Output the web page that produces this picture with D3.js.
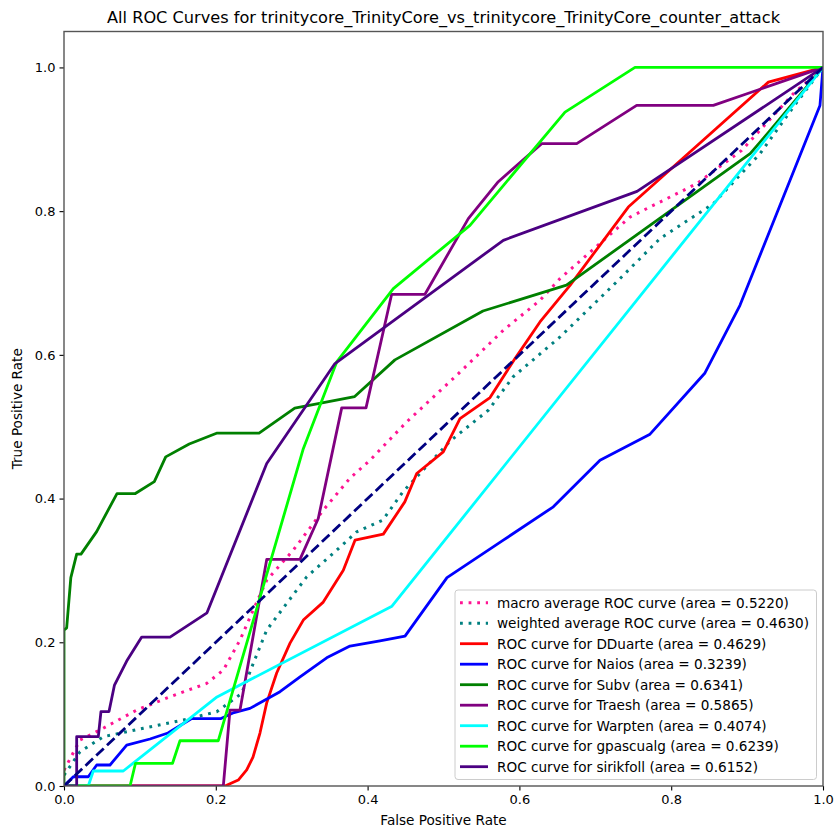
<!DOCTYPE html>
<html>
<head>
<meta charset="utf-8">
<script src="https://cdn.jsdelivr.net/npm/d3@7"></script>
<style>
  html, body { margin: 0; padding: 0; background: #fff; }
  svg { display: block; font-family: "DejaVu Sans", sans-serif; }
</style>
</head>
<body>
<svg id="chart" width="839" height="831"></svg>
<script>
// ROC curve points as [false positive rate, true positive rate]
const macroAvg = [[0,0.022],[0.0211,0.064],[0.0474,0.0779],[0.0958,0.1057],[0.1397,0.1242],[0.188,0.1428],[0.2099,0.1613],[0.2319,0.2031],[0.2473,0.2402],[0.2671,0.2865],[0.3021,0.3282],[0.3416,0.3839],[0.3768,0.4284],[0.4032,0.4534],[0.4515,0.5067],[0.5174,0.5716],[0.5788,0.6342],[0.6271,0.6759],[0.6535,0.7061],[0.7457,0.7918],[0.8336,0.8382],[0.8929,0.8846],[0.9609,0.9634],[1,1]];
const weightedAvg = [[0,0.015],[0.0211,0.0477],[0.0518,0.0686],[0.1045,0.0803],[0.1572,0.0918],[0.2012,0.1033],[0.2341,0.1289],[0.2494,0.1707],[0.2671,0.217],[0.2934,0.2541],[0.3198,0.2911],[0.3593,0.3282],[0.3856,0.3537],[0.42,0.37],[0.447,0.41],[0.5086,0.48],[0.559,0.5229],[0.5916,0.5693],[0.6535,0.6249],[0.7303,0.7038],[0.7852,0.7618],[0.8555,0.8104],[0.917,0.88],[0.9609,0.9448],[1,1]];
const rocDDuarte = [[0,0],[0.2121,0],[0.2296,0.0083],[0.2407,0.0223],[0.249,0.0403],[0.2582,0.0737],[0.267,0.1154],[0.2802,0.1572],[0.2978,0.1989],[0.3153,0.2309],[0.3416,0.2559],[0.368,0.3004],[0.3834,0.3421],[0.4207,0.3505],[0.449,0.3954],[0.4647,0.4349],[0.4997,0.465],[0.5217,0.5114],[0.5613,0.5406],[0.5942,0.5948],[0.6271,0.6458],[0.6667,0.6968],[0.7435,0.8057],[0.928,0.9796],[1,1]];
const rocNaios = [[0,0],[0.0123,0.0129],[0.032,0.0129],[0.0431,0.0292],[0.0606,0.0292],[0.0826,0.057],[0.1133,0.0654],[0.137,0.0737],[0.1682,0.0939],[0.2069,0.0939],[0.224,0.1022],[0.245,0.108],[0.2846,0.1312],[0.311,0.152],[0.3461,0.1784],[0.3768,0.1947],[0.4163,0.2021],[0.4493,0.2086],[0.5046,0.29],[0.5788,0.3421],[0.6447,0.3885],[0.7062,0.4534],[0.7721,0.4896],[0.8445,0.5748],[0.8906,0.669],[0.996,0.947],[1,1]];
const rocSubv = [[0,0],[0,0.217],[0.0035,0.22],[0.009,0.29],[0.0167,0.3227],[0.0224,0.3227],[0.043,0.354],[0.0698,0.407],[0.094,0.407],[0.119,0.4235],[0.134,0.458],[0.165,0.476],[0.201,0.491],[0.257,0.491],[0.304,0.526],[0.383,0.542],[0.436,0.593],[0.552,0.661],[0.662,0.697],[0.904,0.88],[0.927,0.908],[1,1]];
const rocTraesh = [[0,0],[0.2099,0],[0.2187,0.1057],[0.2319,0.1057],[0.2671,0.3153],[0.3109,0.3153],[0.335,0.3723],[0.3659,0.5262],[0.3979,0.5262],[0.4317,0.6843],[0.4756,0.6843],[0.5327,0.7896],[0.5722,0.841],[0.6294,0.8939],[0.6755,0.8939],[0.7545,0.9471],[0.8555,0.9471],[1,1]];
const rocWarpten = [[0,0],[0.032,0],[0.0386,0.0209],[0.0781,0.0209],[0.2016,0.124],[0.4321,0.2503],[1,1]];
const rocGpascualg = [[0,0],[0.087,0],[0.0942,0.0316],[0.143,0.0316],[0.1528,0.063],[0.2033,0.063],[0.3153,0.4695],[0.3593,0.5901],[0.4339,0.6922],[0.5349,0.7803],[0.6601,0.9378],[0.7523,1],[1,1]];
const rocSirikfoll = [[0,0],[0.0167,0],[0.0167,0.0686],[0.0452,0.0686],[0.0487,0.1036],[0.0593,0.1036],[0.0665,0.1405],[0.0826,0.1739],[0.1024,0.2072],[0.1397,0.2072],[0.1884,0.241],[0.2671,0.4488],[0.357,0.5879],[0.5788,0.7594],[0.755,0.8275],[1,1]];
const chanceLine = [[0,0],[1,1]];

const seriesNames = ["macro average ROC curve", "weighted average ROC curve", "ROC curve for DDuarte", "ROC curve for Naios", "ROC curve for Subv", "ROC curve for Traesh", "ROC curve for Warpten", "ROC curve for gpascualg", "ROC curve for sirikfoll"];
const seriesAreas = ["0.5220", "0.4630", "0.4629", "0.3239", "0.6341", "0.5865", "0.4074", "0.6239", "0.6152"];
const seriesColors = ["#ff1493", "#008080", "#ff0000", "#0000ff", "#008000", "#800080", "#00ffff", "#00ff00", "#4b0082"];
const seriesDotted = [true, true, false, false, false, false, false, false, false];
const seriesData = [macroAvg, weightedAvg, rocDDuarte, rocNaios, rocSubv, rocTraesh, rocWarpten, rocGpascualg, rocSirikfoll];
const tickValues = [0, 0.2, 0.4, 0.6, 0.8, 1.0];

const titleText = "All ROC Curves for trinitycore_TrinityCore_vs_trinitycore_TrinityCore_counter_attack";

const svg = d3.select("#chart");
const plotLeft = 64, plotRight = 823, plotTop = 31.5, plotBottom = 786;

const x = d3.scaleLinear().domain([0, 1]).range([plotLeft, plotRight]);
const y = d3.scaleLinear().domain([0, 1.05]).range([plotBottom, plotTop]);

svg.append("defs").append("clipPath").attr("id", "plotClip")
  .append("rect").attr("x", plotLeft).attr("y", plotTop)
  .attr("width", plotRight - plotLeft).attr("height", plotBottom - plotTop);

const line = d3.line().x(d => x(d[0])).y(d => y(d[1]));

const plot = svg.append("g").attr("clip-path", "url(#plotClip)");

const dottedWidth = 3.0, dottedDash = "2.8 5.8";

seriesData.forEach((data, i) => {
  const p = plot.append("path")
    .datum(data)
    .attr("d", line)
    .attr("fill", "none")
    .attr("stroke", seriesColors[i])
    .attr("stroke-linejoin", "round");
  if (seriesDotted[i]) {
    p.attr("stroke-width", dottedWidth).attr("stroke-dasharray", dottedDash);
  } else {
    p.attr("stroke-width", 2.8);
  }
});

// chance diagonal
plot.append("path")
  .datum(chanceLine)
  .attr("d", line)
  .attr("fill", "none")
  .attr("stroke", "#000080")
  .attr("stroke-width", 2.8)
  .attr("stroke-dasharray", "10.3 4.5");

// axes
const xAxis = d3.axisBottom(x).tickValues(tickValues).tickFormat(d3.format(".1f")).tickSize(4.5).tickPadding(4);
const yAxis = d3.axisLeft(y).tickValues(tickValues).tickFormat(d3.format(".1f")).tickSize(4.5).tickPadding(4);

const gx = svg.append("g").attr("transform", `translate(0,${plotBottom})`).call(xAxis);
const gy = svg.append("g").attr("transform", `translate(${plotLeft},0)`).call(yAxis);
[gx, gy].forEach(g => {
  g.select(".domain").remove();
  g.selectAll(".tick line").attr("stroke", "#000").attr("stroke-width", 1.1);
  g.selectAll(".tick text").attr("fill", "#000").style("font-size", "13px").style("font-family", "DejaVu Sans, sans-serif");
});

// frame
svg.append("rect")
  .attr("x", plotLeft).attr("y", plotTop)
  .attr("width", plotRight - plotLeft).attr("height", plotBottom - plotTop)
  .attr("fill", "none").attr("stroke", "#555").attr("stroke-width", 1.4);

// axis titles
svg.append("text")
  .attr("x", (plotLeft + plotRight) / 2).attr("y", 825)
  .attr("text-anchor", "middle")
  .style("font-size", "13.6px")
  .text("False Positive Rate");

svg.append("text")
  .attr("transform", `translate(22,${(plotTop + plotBottom) / 2}) rotate(-90)`)
  .attr("text-anchor", "middle")
  .style("font-size", "13.6px")
  .text("True Positive Rate");

// title
svg.append("text")
  .attr("x", (plotLeft + plotRight) / 2).attr("y", 23)
  .attr("text-anchor", "middle")
  .attr("textLength", 673)
  .attr("lengthAdjust", "spacingAndGlyphs")
  .style("font-size", "15.5px")
  .text(titleText);

// legend
const legend = svg.append("g");
legend.append("rect")
  .attr("x", 455).attr("y", 590)
  .attr("width", 361.5).attr("height", 189.5)
  .attr("rx", 3).attr("ry", 3)
  .attr("fill", "#fff").attr("fill-opacity", 0.8)
  .attr("stroke", "#cccccc").attr("stroke-width", 1);

seriesNames.forEach((name, i) => {
  const cy = 602.7 + i * 20.5;
  const h = legend.append("line")
    .attr("x1", 460).attr("x2", 488)
    .attr("y1", cy).attr("y2", cy)
    .attr("stroke", seriesColors[i]);
  if (seriesDotted[i]) {
    h.attr("stroke-width", dottedWidth).attr("stroke-dasharray", dottedDash);
  } else {
    h.attr("stroke-width", 2.8);
  }
  legend.append("text")
    .attr("x", 497).attr("y", cy + 4.9)
    .style("font-size", "13.6px")
    .text(`${name} (area = ${seriesAreas[i]})`);
});
</script>
</body>
</html>
